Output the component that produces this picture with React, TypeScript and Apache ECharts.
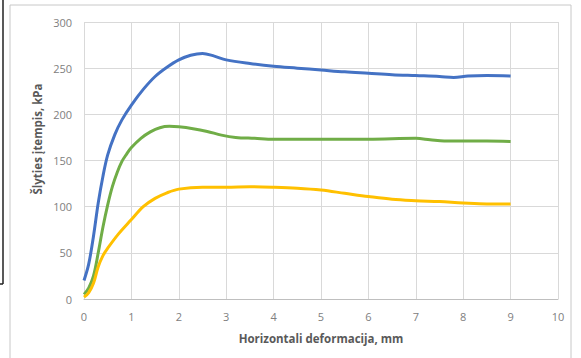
import React, { useEffect, useRef } from "react";
import * as echarts from "echarts";

const blueX = [0, 0.1, 0.2, 0.3, 0.4, 0.5, 0.65, 0.8, 1.0, 1.25, 1.5, 1.75, 2.0, 2.25, 2.5, 2.75, 3.0, 3.5, 4.0, 4.5, 5.0, 5.5, 6.0, 6.5, 7.0, 7.5, 7.8, 8.1, 8.5, 9.0];
const blueY = [20, 38, 68, 104, 133, 156, 178, 194, 210, 227, 241, 251, 259, 264, 266, 263, 259, 255, 252, 250, 248, 246, 244.5, 243, 242, 241, 240, 241.5, 242, 241.5];

const greenX = [0, 0.1, 0.2, 0.3, 0.4, 0.5, 0.6, 0.7, 0.8, 0.9, 1.0, 1.2, 1.4, 1.6, 1.8, 2.0, 2.3, 2.6, 2.9, 3.2, 3.6, 4.0, 5.0, 6.0, 7.0, 7.3, 7.6, 8.0, 8.5, 9.0];
const greenY = [5, 12, 25, 50, 78, 102, 122, 137, 149, 157, 164, 174, 181, 185.5, 187, 186.5, 184.5, 181.5, 177.5, 175, 174, 173, 173, 173, 174, 172.5, 171, 171, 171, 170.5];

const yellowX = [0, 0.1, 0.2, 0.3, 0.4, 0.5, 0.72, 1.0, 1.25, 1.5, 1.75, 2.0, 2.5, 3.0, 3.5, 4.0, 4.5, 5.0, 5.5, 6.0, 6.5, 7.0, 7.5, 8.0, 8.5, 9.0];
const yellowY = [2, 7, 17, 35, 47, 55, 70, 86, 100, 109, 115, 119, 121, 121, 121.5, 121, 120, 118, 114.5, 111, 108, 106.5, 105.5, 104, 103, 103];

const xTitle = "Horizontali deformacija, mm";
const yTitle = "Šlyties įtempis, kPa";

const zip = (xs: number[], ys: number[]) => xs.map((x, i) => [x, ys[i]]);

export default function App() {
  const ref = useRef<HTMLDivElement>(null);
  useEffect(() => {
    if (!ref.current) return;
    const chart = echarts.init(ref.current, undefined, { renderer: "svg" });
    const font = "Open Sans, Noto Sans, sans-serif";
    const mk = (name: string, color: string, data: number[][]) => ({
      name,
      type: "line",
      data,
      smooth: 0.35,
      showSymbol: false,
      lineStyle: { color, width: 3 },
      itemStyle: { color },
    });
    chart.setOption({
      animation: false,
      backgroundColor: "#ffffff",
      grid: { left: 84, right: 23, top: 22, bottom: 59, containLabel: false },
      xAxis: {
        type: "value",
        min: 0,
        max: 10,
        interval: 1,
        name: xTitle,
        nameLocation: "middle",
        nameGap: 33,
        nameTextStyle: { color: "#595959", fontSize: 11.5, fontWeight: "bold", fontFamily: font },
        axisLine: { show: true, lineStyle: { color: "#bfbfbf", width: 1 } },
        axisTick: { show: false },
        axisLabel: { color: "#808080", fontSize: 11, fontFamily: font, margin: 12 },
        splitLine: { show: true, lineStyle: { color: "#d9d9d9", width: 1 } },
      },
      yAxis: {
        type: "value",
        min: 0,
        max: 300,
        interval: 50,
        axisLine: { show: false },
        axisTick: { show: false },
        axisLabel: { color: "#808080", fontSize: 11, fontFamily: font, margin: 12 },
        splitLine: { show: true, lineStyle: { color: "#d9d9d9", width: 1 } },
      },
      graphic: [
        { type: "line", shape: { x1: 10, y1: 5, x2: 571, y2: 5 }, style: { stroke: "#c8c8c8", lineWidth: 1 } },
        { type: "line", shape: { x1: 10, y1: 5, x2: 10, y2: 358 }, style: { stroke: "#c8c8c8", lineWidth: 1 } },
        { type: "line", shape: { x1: 571, y1: 5, x2: 571, y2: 358 }, style: { stroke: "#c8c8c8", lineWidth: 1 } },
        { type: "line", shape: { x1: 3, y1: 0, x2: 3, y2: 284 }, style: { stroke: "#222", lineWidth: 1.5 } },
        { type: "line", shape: { x1: 0, y1: 284, x2: 3, y2: 284 }, style: { stroke: "#222", lineWidth: 1.5 } },
        {
          type: "text",
          x: 37,
          y: 139,
          rotation: Math.PI / 2,
          style: {
            text: yTitle,
            fill: "#595959",
            fontSize: 11.5,
            fontWeight: "bold",
            fontFamily: font,
            align: "center",
            verticalAlign: "middle",
          },
        },
      ],
      series: [
        mk("blue", "#4472c4", zip(blueX, blueY)),
        mk("green", "#70ad47", zip(greenX, greenY)),
        mk("yellow", "#ffc000", zip(yellowX, yellowY)),
      ],
    });
    return () => chart.dispose();
  }, []);
  return <div ref={ref} style={{ position: "fixed", left: 0, top: 0, width: 581, height: 358 }} />;
}
